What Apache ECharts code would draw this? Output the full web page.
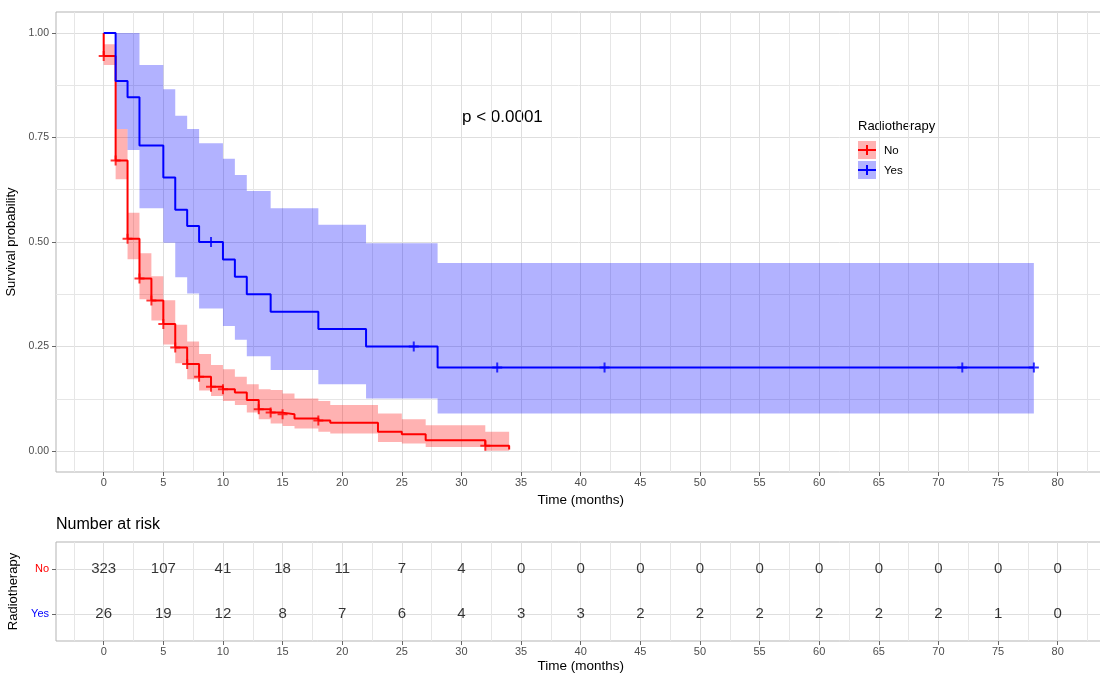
<!DOCTYPE html>
<html>
<head>
    <meta charset="utf-8" />
    <title></title>
    <style>
        html, body { margin: 0; padding: 0; background: #fff; }
        #chart { width: 1100px; height: 677px; }
    </style>
</head>
<body>
    <div id="chart"></div>
    <script src="https://cdn.jsdelivr.net/npm/echarts@6/dist/echarts.min.js"></script>
    <script>
        // Kaplan-Meier step values (time in months)
        var noTime = [0, 0, 1, 2, 3, 4, 5, 6, 7, 8, 9, 10, 11, 12, 13, 14, 15, 16, 18, 19, 23, 25, 27, 32, 34];
        var noSurv = [1, 0.945, 0.695, 0.508, 0.413, 0.360, 0.304, 0.248, 0.208, 0.178, 0.154, 0.148, 0.140, 0.122, 0.100, 0.092, 0.088, 0.078, 0.073, 0.068, 0.046, 0.040, 0.026, 0.013, 0.004];
        var noCensorT = [0, 1, 2, 3, 4, 5, 6, 7, 8, 9, 10, 13, 14, 15, 18, 32];
        var noCensorS = [0.945, 0.695, 0.508, 0.413, 0.360, 0.304, 0.248, 0.208, 0.178, 0.154, 0.148, 0.100, 0.092, 0.088, 0.073, 0.013];
        var noBandT = [0, 1, 2, 3, 4, 5, 6, 7, 8, 9, 10, 11, 12, 13, 14, 15, 16, 18, 19, 23, 25, 27, 32, 34];
        var noUpper = [0.973, 0.770, 0.570, 0.473, 0.418, 0.361, 0.302, 0.262, 0.232, 0.206, 0.196, 0.178, 0.160, 0.148, 0.146, 0.138, 0.126, 0.120, 0.110, 0.090, 0.076, 0.062, 0.046];
        var noLower = [0.923, 0.650, 0.459, 0.363, 0.312, 0.255, 0.210, 0.172, 0.145, 0.132, 0.120, 0.110, 0.092, 0.076, 0.066, 0.060, 0.054, 0.046, 0.042, 0.022, 0.018, 0.010, 0.001];

        var yesTime = [0, 1, 2, 3, 5, 6, 7, 8, 10, 11, 12, 14, 18, 22, 28, 78];
        var yesSurv = [1, 0.885, 0.846, 0.731, 0.654, 0.577, 0.538, 0.500, 0.458, 0.417, 0.375, 0.333, 0.292, 0.250, 0.200, 0.200];
        var yesCensorT = [9, 26, 33, 42, 72, 78];
        var yesCensorS = [0.500, 0.250, 0.200, 0.200, 0.200, 0.200];
        var yesBandT = [1, 2, 3, 5, 6, 7, 8, 10, 11, 12, 14, 18, 22, 28, 78];
        var yesUpper = [1.0, 1.0, 0.923, 0.865, 0.802, 0.770, 0.736, 0.699, 0.660, 0.622, 0.581, 0.541, 0.497, 0.450];
        var yesLower = [0.770, 0.720, 0.581, 0.498, 0.416, 0.377, 0.341, 0.299, 0.266, 0.227, 0.194, 0.160, 0.126, 0.090];

        // number at risk table
        var riskTimes = [0, 5, 10, 15, 20, 25, 30, 35, 40, 45, 50, 55, 60, 65, 70, 75, 80];
        var riskNo = [323, 107, 41, 18, 11, 7, 4, 0, 0, 0, 0, 0, 0, 0, 0, 0, 0];
        var riskYes = [26, 19, 12, 8, 7, 6, 4, 3, 3, 2, 2, 2, 2, 2, 2, 1, 0];

        // tick labels
        var xTicks = [0, 5, 10, 15, 20, 25, 30, 35, 40, 45, 50, 55, 60, 65, 70, 75, 80];
        var yTicks = [0, 0.25, 0.5, 0.75, 1];

        var RED = '#FF0000', BLUE = '#0000FF';
        var FONT = 'Liberation Sans, Arial, sans-serif';
        var xMinorVals = xTicks.map(function (v) { return v - 2.5; }).concat([82.5]);
        var yMinorVals = yTicks.slice(1).map(function (v) { return v - 0.125; });

        function pairs(xs, ys) {
            return xs.map(function (x, i) { return [x, ys[i]]; });
        }

        function band(T, U, L, color) {
            return {
                type: 'custom', xAxisIndex: 0, yAxisIndex: 0, z: 1, silent: true,
                data: [[0, 0]],
                renderItem: function (params, api) {
                    var pts = [];
                    for (var i = 0; i < U.length; i++) {
                        pts.push(api.coord([T[i], U[i]]));
                        pts.push(api.coord([T[i + 1], U[i]]));
                    }
                    for (var j = U.length - 1; j >= 0; j--) {
                        pts.push(api.coord([T[j + 1], L[j]]));
                        pts.push(api.coord([T[j], L[j]]));
                    }
                    return { type: 'polygon', shape: { points: pts }, style: { fill: color } };
                }
            };
        }

        var plus = 'path://M4,0h2v4h4v2h-4v4h-2v-4h-4v-2h4z';

        function xMajor(g) {
            return {
                type: 'value', gridIndex: g, min: -4, max: 84,
                name: 'Time (months)', nameLocation: 'middle', nameGap: 18,
                nameTextStyle: { fontSize: 13.5, color: '#000' },
                axisLine: { show: false, onZero: false },
                axisTick: { show: true, length: 4, customValues: xTicks, lineStyle: { color: '#666' } },
                axisLabel: { customValues: xTicks, fontSize: 11, color: '#4D4D4D', margin: 5 },
                splitLine: { show: true, lineStyle: { color: '#DEDEDE', width: 1 } }
            };
        }
        function xMinor(g) {
            return {
                type: 'value', gridIndex: g, position: 'top', min: -4, max: 84,
                axisLine: { show: false, onZero: false },
                axisTick: { show: false, customValues: xMinorVals },
                axisLabel: { show: false },
                splitLine: { show: true, lineStyle: { color: '#E6E6E6', width: 1 } }
            };
        }

        var option = {
            animation: false,
            textStyle: { fontFamily: FONT },
            grid: [
                { left: 56, top: 12, right: -5.4, height: 460, show: true, borderColor: '#B3B3B3', borderWidth: 1, containLabel: false, outerBoundsMode: 'none' },
                { left: 56, top: 542, right: -5.4, height: 99, show: true, borderColor: '#B3B3B3', borderWidth: 1, containLabel: false, outerBoundsMode: 'none' }
            ],
            xAxis: [xMajor(0), xMinor(0), xMajor(1), xMinor(1)],
            yAxis: [
                {
                    type: 'value', gridIndex: 0, min: -0.05, max: 1.05,
                    name: 'Survival probability', nameLocation: 'middle', nameGap: 31, nameRotate: 90,
                    nameTextStyle: { fontSize: 13, color: '#000' },
                    axisLine: { show: false, onZero: false },
                    axisTick: { show: true, length: 4, customValues: yTicks, lineStyle: { color: '#666' } },
                    axisLabel: {
                        customValues: yTicks, fontSize: 10.5, color: '#4D4D4D', margin: 7,
                        formatter: function (v) { return v.toFixed(2); }
                    },
                    splitLine: { show: true, lineStyle: { color: '#DEDEDE', width: 1 } }
                },
                {
                    type: 'value', gridIndex: 0, position: 'right', min: -0.05, max: 1.05,
                    axisLine: { show: false, onZero: false },
                    axisTick: { show: false, customValues: yMinorVals },
                    axisLabel: { show: false },
                    splitLine: { show: true, lineStyle: { color: '#E6E6E6', width: 1 } }
                },
                {
                    type: 'value', gridIndex: 1, min: 0.4, max: 2.6,
                    name: 'Radiotherapy', nameLocation: 'middle', nameGap: 31, nameRotate: 90,
                    nameTextStyle: { fontSize: 13, color: '#000' },
                    axisLine: { show: false, onZero: false },
                    axisTick: { show: true, length: 4, customValues: [1, 2], lineStyle: { color: '#666' } },
                    axisLabel: {
                        customValues: [1, 2], margin: 7,
                        formatter: function (v) { return v === 2 ? '{no|No}' : '{yes|Yes}'; },
                        rich: { no: { color: RED, fontSize: 11 }, yes: { color: BLUE, fontSize: 11 } }
                    },
                    splitLine: { show: true, lineStyle: { color: '#DEDEDE', width: 1 } }
                }
            ],
            graphic: [
                { type: 'text', left: 56, top: 517, style: { text: 'Number at risk', fontSize: 16, fill: '#000', fontFamily: FONT } },
                { type: 'text', left: 462, top: 109, style: { text: 'p < 0.0001', fontSize: 17, fill: '#000', fontFamily: FONT } },
                {
                    type: 'group', left: 851, top: 116,
                    children: [
                        { type: 'rect', shape: { x: 0, y: 0, width: 90, height: 66 }, style: { fill: '#fff' } },
                        { type: 'text', x: 7, y: 4, style: { text: 'Radiotherapy', fontSize: 13, fill: '#000', fontFamily: FONT } },
                        { type: 'rect', shape: { x: 7, y: 25, width: 18, height: 18 }, style: { fill: 'rgba(255,0,0,0.3)' } },
                        { type: 'line', shape: { x1: 7, y1: 34, x2: 25, y2: 34 }, style: { stroke: RED, lineWidth: 2 } },
                        { type: 'line', shape: { x1: 16, y1: 29, x2: 16, y2: 39 }, style: { stroke: RED, lineWidth: 2 } },
                        { type: 'rect', shape: { x: 7, y: 45, width: 18, height: 18 }, style: { fill: 'rgba(0,0,255,0.3)' } },
                        { type: 'line', shape: { x1: 7, y1: 54, x2: 25, y2: 54 }, style: { stroke: BLUE, lineWidth: 2 } },
                        { type: 'line', shape: { x1: 16, y1: 49, x2: 16, y2: 59 }, style: { stroke: BLUE, lineWidth: 2 } },
                        { type: 'text', x: 33, y: 29, style: { text: 'No', fontSize: 11.5, fill: '#000', fontFamily: FONT } },
                        { type: 'text', x: 33, y: 49, style: { text: 'Yes', fontSize: 11.5, fill: '#000', fontFamily: FONT } }
                    ]
                }
            ],
            series: [
                band(noBandT, noUpper, noLower, 'rgba(255,0,0,0.3)'),
                band(yesBandT, yesUpper, yesLower, 'rgba(0,0,255,0.3)'),
                {
                    name: 'No', type: 'line', xAxisIndex: 0, yAxisIndex: 0, step: 'end', z: 3,
                    showSymbol: false, silent: true, data: pairs(noTime, noSurv),
                    lineStyle: { color: RED, width: 2 }, itemStyle: { color: RED }
                },
                {
                    name: 'Yes', type: 'line', xAxisIndex: 0, yAxisIndex: 0, step: 'end', z: 3,
                    showSymbol: false, silent: true, data: pairs(yesTime, yesSurv),
                    lineStyle: { color: BLUE, width: 2 }, itemStyle: { color: BLUE }
                },
                {
                    type: 'scatter', xAxisIndex: 0, yAxisIndex: 0, z: 4, silent: true,
                    symbol: plus, symbolSize: 10, itemStyle: { color: RED },
                    data: pairs(noCensorT, noCensorS)
                },
                {
                    type: 'scatter', xAxisIndex: 0, yAxisIndex: 0, z: 4, silent: true,
                    symbol: plus, symbolSize: 10, itemStyle: { color: BLUE },
                    data: pairs(yesCensorT, yesCensorS)
                },
                {
                    type: 'scatter', xAxisIndex: 2, yAxisIndex: 2, silent: true,
                    symbolSize: 1, itemStyle: { color: 'transparent' },
                    label: { show: true, position: 'inside', fontSize: 15, color: '#000', formatter: function (p) { return p.value[2]; } },
                    data: riskTimes.map(function (t, i) { return [t, 2, riskNo[i]]; })
                        .concat(riskTimes.map(function (t, i) { return [t, 1, riskYes[i]]; }))
                }
            ]
        };

        var chart = echarts.init(document.getElementById('chart'));
        chart.setOption(option);
    </script>
</body>
</html>
